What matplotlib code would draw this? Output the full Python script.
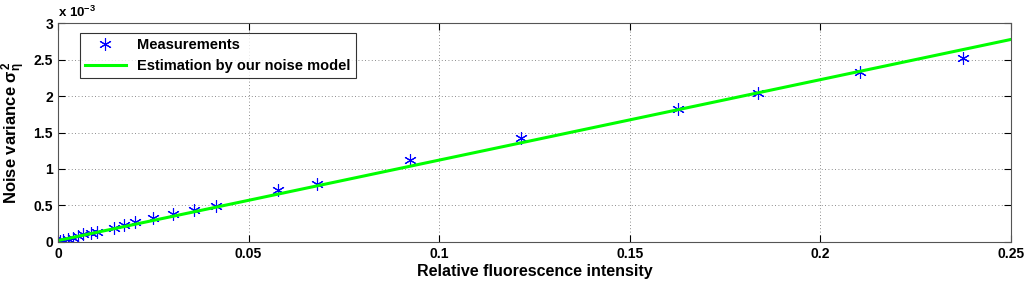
import numpy as np
import matplotlib
matplotlib.use("Agg")
import matplotlib.pyplot as plt

plt.rcParams['font.family'] = ['Liberation Sans', 'DejaVu Sans']
plt.rcParams['font.weight'] = 'bold'
plt.rcParams['mathtext.fontset'] = 'custom'
plt.rcParams['mathtext.rm'] = 'Liberation Sans:bold'
plt.rcParams['mathtext.it'] = 'Liberation Sans:bold'

# measured noise variance vs. relative intensity (variance in units of 1e-3)
intensity = [0.0005, 0.0013, 0.0026, 0.0039, 0.0052, 0.0066, 0.0087, 0.0102,
             0.0147, 0.0173, 0.0202, 0.0249, 0.0302, 0.0357, 0.0414,
             0.0577, 0.0679, 0.0923, 0.1215, 0.1626, 0.1836, 0.2104, 0.2374]
variance = [0.014, 0.027, 0.041, 0.055, 0.082, 0.110, 0.123, 0.137,
            0.19, 0.23, 0.27, 0.33, 0.38, 0.44, 0.49,
            0.71, 0.79, 1.12, 1.42, 1.82, 2.04, 2.33, 2.52]

# noise model fit
fit_x = [0.0, 0.25]
fit_y = [0.02, 2.775]

fig = plt.figure(figsize=(10.24, 2.83), dpi=100)
ax = fig.add_axes([0.0566, 0.1449, 0.9307, 0.7738])

ax.plot(intensity, variance, linestyle='none', marker=(6, 2, 0), markersize=9,
        markeredgewidth=0.8, color='blue', label='Measurements')
ax.plot(fit_x, fit_y, color='#00ff00', linewidth=2.2, label='Estimation by our noise model')

ax.set_xlim(0, 0.25)
ax.set_ylim(0, 3)
ax.set_xticks([0, 0.05, 0.1, 0.15, 0.2, 0.25])
ax.set_xticklabels(['0', '0.05', '0.1', '0.15', '0.2', '0.25'])
ax.set_yticks([0, 0.5, 1, 1.5, 2, 2.5, 3])
ax.set_yticklabels(['0', '0.5', '1', '1.5', '2', '2.5', '3'])
ax.tick_params(direction='in', top=True, right=True, labelsize=10, length=5)
ax.grid(True, linestyle=(0, (1, 3)), color='black', linewidth=0.6, alpha=0.6)
for s in ax.spines.values():
    s.set_color('#555555')

ax.set_xlabel('Relative fluorescence intensity', fontsize=11.5, fontweight='bold', labelpad=2)
ax.set_ylabel(r'Noise variance $\sigma_{\eta}^{2}$', fontsize=12, fontweight='bold', labelpad=4)
ax.text(0.0, 1.015, r'x 10$^{-3}$', transform=ax.transAxes, fontsize=9.5,
        fontweight='bold', va='bottom', ha='left')

leg = ax.legend(loc='upper left', bbox_to_anchor=(0.023, 0.954), borderaxespad=0,
                fontsize=10.5, frameon=True, fancybox=False, edgecolor='black',
                borderpad=0.35, handlelength=2.8, labelspacing=0.45)
leg.get_frame().set_linewidth(0.8)

fig.savefig('out.png', dpi=100)
